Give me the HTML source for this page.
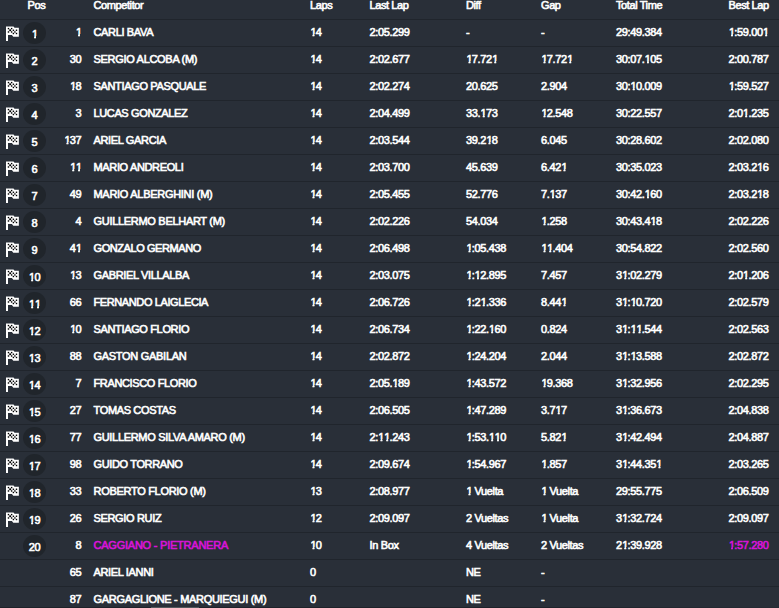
<!DOCTYPE html>
<html><head><meta charset="utf-8"><style>
html,body{margin:0;padding:0;}
body{width:779px;height:608px;overflow:hidden;background:#292f38;position:relative;font-family:"Liberation Sans",sans-serif;font-size:11px;font-weight:normal;-webkit-text-stroke-width:0.6px;color:#fff;letter-spacing:-0.35px;}
.r{position:absolute;left:0;width:779px;height:26px;border-top:1px solid #20252c;}
.t{position:absolute;white-space:nowrap;line-height:13px;top:6px;}
.h{position:absolute;white-space:nowrap;line-height:13px;top:-1px;letter-spacing:-0.4px;}
.n{position:absolute;right:697.7px;text-align:right;white-space:nowrap;line-height:13px;top:6px;}
.c{position:absolute;left:23px;top:2px;width:23px;height:22px;border-radius:50%;background:#20252b;text-align:center;line-height:22px;}
.c span{position:relative;top:1px;letter-spacing:-0.3px;}
.fl{position:absolute;left:6px;top:6px;}
.m{color:#d814d8;}
.o{font-style:normal;display:inline-block;line-height:13px;position:relative;left:0.4px;clip-path:polygon(0 0,100% 0,100% 8.0px,4.05px 8.0px,4.05px 13px,2.15px 13px,2.15px 8.0px,0 8.0px);}
.sb{position:absolute;left:0;top:607px;width:779px;height:1px;background:linear-gradient(to right,#1e2229 0,#1e2229 520px,#262b34 779px);}
.th{position:absolute;left:151px;top:607px;width:48px;height:1px;background:#52585c;}
</style></head><body>

<div class="h" style="left:27.6px">Pos</div>
<div class="h" style="left:93.5px">Competitor</div>
<div class="h" style="left:310px">Laps</div>
<div class="h" style="left:369.5px">Last Lap</div>
<div class="h" style="left:466px">Diff</div>
<div class="h" style="left:541px">Gap</div>
<div class="h" style="left:616px">Total Time</div>
<div class="h" style="left:728.5px">Best Lap</div>
<div class="r" style="top:19px"><svg class="fl" width="16" height="16" viewBox="0 0 16 16"><path d="M0 0.4H7.5L8.5 1.7H12.85V10.7H7.3L5.9 9H2V15.1H0Z" fill="#fff"/><rect x="1.77" y="1.87" width="1.4" height="1.4" fill="#000"/><rect x="4.93" y="1.87" width="1.4" height="1.4" fill="#000"/><rect x="6.70" y="3.55" width="1.4" height="1.4" fill="#000"/><rect x="9.80" y="3.55" width="1.4" height="1.4" fill="#000"/><rect x="6.70" y="6.80" width="1.4" height="1.4" fill="#000"/><rect x="9.80" y="6.80" width="1.4" height="1.4" fill="#000"/><rect x="1.77" y="4.93" width="1.4" height="2.0" fill="#000" opacity="0.75"/><rect x="4.93" y="4.93" width="1.4" height="2.0" fill="#000" opacity="0.75"/><rect x="8.20" y="4.93" width="1.4" height="2.0" fill="#000" opacity="0.75"/><rect x="3.25" y="3.35" width="1.8" height="1.8" fill="#000"/></svg><div class="c"><span><i class="o">1</i></span></div><div class="n"><i class="o">1</i></div><div class="t" style="left:93.5px;letter-spacing:-0.35px">CARLI BAVA</div><div class="t" style="left:310px;letter-spacing:-0.36px"><i class="o">1</i>4</div><div class="t" style="left:369.5px;letter-spacing:-0.36px">2:05.299</div><div class="t" style="left:466px;letter-spacing:-0.36px">-</div><div class="t" style="left:541px;letter-spacing:-0.36px">-</div><div class="t" style="left:616px;letter-spacing:-0.36px">29:49.384</div><div class="t" style="left:728.5px;letter-spacing:-0.36px"><i class="o">1</i>:59.00<i class="o">1</i></div></div>
<div class="r" style="top:46px"><svg class="fl" width="16" height="16" viewBox="0 0 16 16"><path d="M0 0.4H7.5L8.5 1.7H12.85V10.7H7.3L5.9 9H2V15.1H0Z" fill="#fff"/><rect x="1.77" y="1.87" width="1.4" height="1.4" fill="#000"/><rect x="4.93" y="1.87" width="1.4" height="1.4" fill="#000"/><rect x="6.70" y="3.55" width="1.4" height="1.4" fill="#000"/><rect x="9.80" y="3.55" width="1.4" height="1.4" fill="#000"/><rect x="6.70" y="6.80" width="1.4" height="1.4" fill="#000"/><rect x="9.80" y="6.80" width="1.4" height="1.4" fill="#000"/><rect x="1.77" y="4.93" width="1.4" height="2.0" fill="#000" opacity="0.75"/><rect x="4.93" y="4.93" width="1.4" height="2.0" fill="#000" opacity="0.75"/><rect x="8.20" y="4.93" width="1.4" height="2.0" fill="#000" opacity="0.75"/><rect x="3.25" y="3.35" width="1.8" height="1.8" fill="#000"/></svg><div class="c"><span>2</span></div><div class="n">30</div><div class="t" style="left:93.5px;letter-spacing:-0.304px">SERGIO ALCOBA (M)</div><div class="t" style="left:310px;letter-spacing:-0.36px"><i class="o">1</i>4</div><div class="t" style="left:369.5px;letter-spacing:-0.36px">2:02.677</div><div class="t" style="left:466px;letter-spacing:-0.36px"><i class="o">1</i>7.72<i class="o">1</i></div><div class="t" style="left:541px;letter-spacing:-0.36px"><i class="o">1</i>7.72<i class="o">1</i></div><div class="t" style="left:616px;letter-spacing:-0.36px">30:07.<i class="o">1</i>05</div><div class="t" style="left:728.5px;letter-spacing:-0.36px">2:00.787</div></div>
<div class="r" style="top:73px"><svg class="fl" width="16" height="16" viewBox="0 0 16 16"><path d="M0 0.4H7.5L8.5 1.7H12.85V10.7H7.3L5.9 9H2V15.1H0Z" fill="#fff"/><rect x="1.77" y="1.87" width="1.4" height="1.4" fill="#000"/><rect x="4.93" y="1.87" width="1.4" height="1.4" fill="#000"/><rect x="6.70" y="3.55" width="1.4" height="1.4" fill="#000"/><rect x="9.80" y="3.55" width="1.4" height="1.4" fill="#000"/><rect x="6.70" y="6.80" width="1.4" height="1.4" fill="#000"/><rect x="9.80" y="6.80" width="1.4" height="1.4" fill="#000"/><rect x="1.77" y="4.93" width="1.4" height="2.0" fill="#000" opacity="0.75"/><rect x="4.93" y="4.93" width="1.4" height="2.0" fill="#000" opacity="0.75"/><rect x="8.20" y="4.93" width="1.4" height="2.0" fill="#000" opacity="0.75"/><rect x="3.25" y="3.35" width="1.8" height="1.8" fill="#000"/></svg><div class="c"><span>3</span></div><div class="n"><i class="o">1</i>8</div><div class="t" style="left:93.5px;letter-spacing:-0.343px">SANTIAGO PASQUALE</div><div class="t" style="left:310px;letter-spacing:-0.36px"><i class="o">1</i>4</div><div class="t" style="left:369.5px;letter-spacing:-0.36px">2:02.274</div><div class="t" style="left:466px;letter-spacing:-0.36px">20.625</div><div class="t" style="left:541px;letter-spacing:-0.36px">2.904</div><div class="t" style="left:616px;letter-spacing:-0.36px">30:<i class="o">1</i>0.009</div><div class="t" style="left:728.5px;letter-spacing:-0.36px"><i class="o">1</i>:59.527</div></div>
<div class="r" style="top:100px"><svg class="fl" width="16" height="16" viewBox="0 0 16 16"><path d="M0 0.4H7.5L8.5 1.7H12.85V10.7H7.3L5.9 9H2V15.1H0Z" fill="#fff"/><rect x="1.77" y="1.87" width="1.4" height="1.4" fill="#000"/><rect x="4.93" y="1.87" width="1.4" height="1.4" fill="#000"/><rect x="6.70" y="3.55" width="1.4" height="1.4" fill="#000"/><rect x="9.80" y="3.55" width="1.4" height="1.4" fill="#000"/><rect x="6.70" y="6.80" width="1.4" height="1.4" fill="#000"/><rect x="9.80" y="6.80" width="1.4" height="1.4" fill="#000"/><rect x="1.77" y="4.93" width="1.4" height="2.0" fill="#000" opacity="0.75"/><rect x="4.93" y="4.93" width="1.4" height="2.0" fill="#000" opacity="0.75"/><rect x="8.20" y="4.93" width="1.4" height="2.0" fill="#000" opacity="0.75"/><rect x="3.25" y="3.35" width="1.8" height="1.8" fill="#000"/></svg><div class="c"><span>4</span></div><div class="n">3</div><div class="t" style="left:93.5px;letter-spacing:-0.369px">LUCAS GONZALEZ</div><div class="t" style="left:310px;letter-spacing:-0.36px"><i class="o">1</i>4</div><div class="t" style="left:369.5px;letter-spacing:-0.36px">2:04.499</div><div class="t" style="left:466px;letter-spacing:-0.36px">33.<i class="o">1</i>73</div><div class="t" style="left:541px;letter-spacing:-0.36px"><i class="o">1</i>2.548</div><div class="t" style="left:616px;letter-spacing:-0.36px">30:22.557</div><div class="t" style="left:728.5px;letter-spacing:-0.36px">2:0<i class="o">1</i>.235</div></div>
<div class="r" style="top:127px"><svg class="fl" width="16" height="16" viewBox="0 0 16 16"><path d="M0 0.4H7.5L8.5 1.7H12.85V10.7H7.3L5.9 9H2V15.1H0Z" fill="#fff"/><rect x="1.77" y="1.87" width="1.4" height="1.4" fill="#000"/><rect x="4.93" y="1.87" width="1.4" height="1.4" fill="#000"/><rect x="6.70" y="3.55" width="1.4" height="1.4" fill="#000"/><rect x="9.80" y="3.55" width="1.4" height="1.4" fill="#000"/><rect x="6.70" y="6.80" width="1.4" height="1.4" fill="#000"/><rect x="9.80" y="6.80" width="1.4" height="1.4" fill="#000"/><rect x="1.77" y="4.93" width="1.4" height="2.0" fill="#000" opacity="0.75"/><rect x="4.93" y="4.93" width="1.4" height="2.0" fill="#000" opacity="0.75"/><rect x="8.20" y="4.93" width="1.4" height="2.0" fill="#000" opacity="0.75"/><rect x="3.25" y="3.35" width="1.8" height="1.8" fill="#000"/></svg><div class="c"><span>5</span></div><div class="n"><i class="o">1</i>37</div><div class="t" style="left:93.5px;letter-spacing:-0.35px">ARIEL GARCIA</div><div class="t" style="left:310px;letter-spacing:-0.36px"><i class="o">1</i>4</div><div class="t" style="left:369.5px;letter-spacing:-0.36px">2:03.544</div><div class="t" style="left:466px;letter-spacing:-0.36px">39.2<i class="o">1</i>8</div><div class="t" style="left:541px;letter-spacing:-0.36px">6.045</div><div class="t" style="left:616px;letter-spacing:-0.36px">30:28.602</div><div class="t" style="left:728.5px;letter-spacing:-0.36px">2:02.080</div></div>
<div class="r" style="top:154px"><svg class="fl" width="16" height="16" viewBox="0 0 16 16"><path d="M0 0.4H7.5L8.5 1.7H12.85V10.7H7.3L5.9 9H2V15.1H0Z" fill="#fff"/><rect x="1.77" y="1.87" width="1.4" height="1.4" fill="#000"/><rect x="4.93" y="1.87" width="1.4" height="1.4" fill="#000"/><rect x="6.70" y="3.55" width="1.4" height="1.4" fill="#000"/><rect x="9.80" y="3.55" width="1.4" height="1.4" fill="#000"/><rect x="6.70" y="6.80" width="1.4" height="1.4" fill="#000"/><rect x="9.80" y="6.80" width="1.4" height="1.4" fill="#000"/><rect x="1.77" y="4.93" width="1.4" height="2.0" fill="#000" opacity="0.75"/><rect x="4.93" y="4.93" width="1.4" height="2.0" fill="#000" opacity="0.75"/><rect x="8.20" y="4.93" width="1.4" height="2.0" fill="#000" opacity="0.75"/><rect x="3.25" y="3.35" width="1.8" height="1.8" fill="#000"/></svg><div class="c"><span>6</span></div><div class="n"><i class="o">1</i><i class="o">1</i></div><div class="t" style="left:93.5px;letter-spacing:-0.35px">MARIO ANDREOLI</div><div class="t" style="left:310px;letter-spacing:-0.36px"><i class="o">1</i>4</div><div class="t" style="left:369.5px;letter-spacing:-0.36px">2:03.700</div><div class="t" style="left:466px;letter-spacing:-0.36px">45.639</div><div class="t" style="left:541px;letter-spacing:-0.36px">6.42<i class="o">1</i></div><div class="t" style="left:616px;letter-spacing:-0.36px">30:35.023</div><div class="t" style="left:728.5px;letter-spacing:-0.36px">2:03.2<i class="o">1</i>6</div></div>
<div class="r" style="top:181px"><svg class="fl" width="16" height="16" viewBox="0 0 16 16"><path d="M0 0.4H7.5L8.5 1.7H12.85V10.7H7.3L5.9 9H2V15.1H0Z" fill="#fff"/><rect x="1.77" y="1.87" width="1.4" height="1.4" fill="#000"/><rect x="4.93" y="1.87" width="1.4" height="1.4" fill="#000"/><rect x="6.70" y="3.55" width="1.4" height="1.4" fill="#000"/><rect x="9.80" y="3.55" width="1.4" height="1.4" fill="#000"/><rect x="6.70" y="6.80" width="1.4" height="1.4" fill="#000"/><rect x="9.80" y="6.80" width="1.4" height="1.4" fill="#000"/><rect x="1.77" y="4.93" width="1.4" height="2.0" fill="#000" opacity="0.75"/><rect x="4.93" y="4.93" width="1.4" height="2.0" fill="#000" opacity="0.75"/><rect x="8.20" y="4.93" width="1.4" height="2.0" fill="#000" opacity="0.75"/><rect x="3.25" y="3.35" width="1.8" height="1.8" fill="#000"/></svg><div class="c"><span>7</span></div><div class="n">49</div><div class="t" style="left:93.5px;letter-spacing:-0.29px">MARIO ALBERGHINI (M)</div><div class="t" style="left:310px;letter-spacing:-0.36px"><i class="o">1</i>4</div><div class="t" style="left:369.5px;letter-spacing:-0.36px">2:05.455</div><div class="t" style="left:466px;letter-spacing:-0.36px">52.776</div><div class="t" style="left:541px;letter-spacing:-0.36px">7.<i class="o">1</i>37</div><div class="t" style="left:616px;letter-spacing:-0.36px">30:42.<i class="o">1</i>60</div><div class="t" style="left:728.5px;letter-spacing:-0.36px">2:03.2<i class="o">1</i>8</div></div>
<div class="r" style="top:208px"><svg class="fl" width="16" height="16" viewBox="0 0 16 16"><path d="M0 0.4H7.5L8.5 1.7H12.85V10.7H7.3L5.9 9H2V15.1H0Z" fill="#fff"/><rect x="1.77" y="1.87" width="1.4" height="1.4" fill="#000"/><rect x="4.93" y="1.87" width="1.4" height="1.4" fill="#000"/><rect x="6.70" y="3.55" width="1.4" height="1.4" fill="#000"/><rect x="9.80" y="3.55" width="1.4" height="1.4" fill="#000"/><rect x="6.70" y="6.80" width="1.4" height="1.4" fill="#000"/><rect x="9.80" y="6.80" width="1.4" height="1.4" fill="#000"/><rect x="1.77" y="4.93" width="1.4" height="2.0" fill="#000" opacity="0.75"/><rect x="4.93" y="4.93" width="1.4" height="2.0" fill="#000" opacity="0.75"/><rect x="8.20" y="4.93" width="1.4" height="2.0" fill="#000" opacity="0.75"/><rect x="3.25" y="3.35" width="1.8" height="1.8" fill="#000"/></svg><div class="c"><span>8</span></div><div class="n">4</div><div class="t" style="left:93.5px;letter-spacing:-0.3px">GUILLERMO BELHART (M)</div><div class="t" style="left:310px;letter-spacing:-0.36px"><i class="o">1</i>4</div><div class="t" style="left:369.5px;letter-spacing:-0.36px">2:02.226</div><div class="t" style="left:466px;letter-spacing:-0.36px">54.034</div><div class="t" style="left:541px;letter-spacing:-0.36px"><i class="o">1</i>.258</div><div class="t" style="left:616px;letter-spacing:-0.36px">30:43.4<i class="o">1</i>8</div><div class="t" style="left:728.5px;letter-spacing:-0.36px">2:02.226</div></div>
<div class="r" style="top:235px"><svg class="fl" width="16" height="16" viewBox="0 0 16 16"><path d="M0 0.4H7.5L8.5 1.7H12.85V10.7H7.3L5.9 9H2V15.1H0Z" fill="#fff"/><rect x="1.77" y="1.87" width="1.4" height="1.4" fill="#000"/><rect x="4.93" y="1.87" width="1.4" height="1.4" fill="#000"/><rect x="6.70" y="3.55" width="1.4" height="1.4" fill="#000"/><rect x="9.80" y="3.55" width="1.4" height="1.4" fill="#000"/><rect x="6.70" y="6.80" width="1.4" height="1.4" fill="#000"/><rect x="9.80" y="6.80" width="1.4" height="1.4" fill="#000"/><rect x="1.77" y="4.93" width="1.4" height="2.0" fill="#000" opacity="0.75"/><rect x="4.93" y="4.93" width="1.4" height="2.0" fill="#000" opacity="0.75"/><rect x="8.20" y="4.93" width="1.4" height="2.0" fill="#000" opacity="0.75"/><rect x="3.25" y="3.35" width="1.8" height="1.8" fill="#000"/></svg><div class="c"><span>9</span></div><div class="n">4<i class="o">1</i></div><div class="t" style="left:93.5px;letter-spacing:-0.421px">GONZALO GERMANO</div><div class="t" style="left:310px;letter-spacing:-0.36px"><i class="o">1</i>4</div><div class="t" style="left:369.5px;letter-spacing:-0.36px">2:06.498</div><div class="t" style="left:466px;letter-spacing:-0.36px"><i class="o">1</i>:05.438</div><div class="t" style="left:541px;letter-spacing:-0.36px"><i class="o">1</i><i class="o">1</i>.404</div><div class="t" style="left:616px;letter-spacing:-0.36px">30:54.822</div><div class="t" style="left:728.5px;letter-spacing:-0.36px">2:02.560</div></div>
<div class="r" style="top:262px"><svg class="fl" width="16" height="16" viewBox="0 0 16 16"><path d="M0 0.4H7.5L8.5 1.7H12.85V10.7H7.3L5.9 9H2V15.1H0Z" fill="#fff"/><rect x="1.77" y="1.87" width="1.4" height="1.4" fill="#000"/><rect x="4.93" y="1.87" width="1.4" height="1.4" fill="#000"/><rect x="6.70" y="3.55" width="1.4" height="1.4" fill="#000"/><rect x="9.80" y="3.55" width="1.4" height="1.4" fill="#000"/><rect x="6.70" y="6.80" width="1.4" height="1.4" fill="#000"/><rect x="9.80" y="6.80" width="1.4" height="1.4" fill="#000"/><rect x="1.77" y="4.93" width="1.4" height="2.0" fill="#000" opacity="0.75"/><rect x="4.93" y="4.93" width="1.4" height="2.0" fill="#000" opacity="0.75"/><rect x="8.20" y="4.93" width="1.4" height="2.0" fill="#000" opacity="0.75"/><rect x="3.25" y="3.35" width="1.8" height="1.8" fill="#000"/></svg><div class="c"><span><i class="o">1</i>0</span></div><div class="n"><i class="o">1</i>3</div><div class="t" style="left:93.5px;letter-spacing:-0.35px">GABRIEL VILLALBA</div><div class="t" style="left:310px;letter-spacing:-0.36px"><i class="o">1</i>4</div><div class="t" style="left:369.5px;letter-spacing:-0.36px">2:03.075</div><div class="t" style="left:466px;letter-spacing:-0.36px"><i class="o">1</i>:<i class="o">1</i>2.895</div><div class="t" style="left:541px;letter-spacing:-0.36px">7.457</div><div class="t" style="left:616px;letter-spacing:-0.36px">3<i class="o">1</i>:02.279</div><div class="t" style="left:728.5px;letter-spacing:-0.36px">2:0<i class="o">1</i>.206</div></div>
<div class="r" style="top:289px"><svg class="fl" width="16" height="16" viewBox="0 0 16 16"><path d="M0 0.4H7.5L8.5 1.7H12.85V10.7H7.3L5.9 9H2V15.1H0Z" fill="#fff"/><rect x="1.77" y="1.87" width="1.4" height="1.4" fill="#000"/><rect x="4.93" y="1.87" width="1.4" height="1.4" fill="#000"/><rect x="6.70" y="3.55" width="1.4" height="1.4" fill="#000"/><rect x="9.80" y="3.55" width="1.4" height="1.4" fill="#000"/><rect x="6.70" y="6.80" width="1.4" height="1.4" fill="#000"/><rect x="9.80" y="6.80" width="1.4" height="1.4" fill="#000"/><rect x="1.77" y="4.93" width="1.4" height="2.0" fill="#000" opacity="0.75"/><rect x="4.93" y="4.93" width="1.4" height="2.0" fill="#000" opacity="0.75"/><rect x="8.20" y="4.93" width="1.4" height="2.0" fill="#000" opacity="0.75"/><rect x="3.25" y="3.35" width="1.8" height="1.8" fill="#000"/></svg><div class="c"><span><i class="o">1</i><i class="o">1</i></span></div><div class="n">66</div><div class="t" style="left:93.5px;letter-spacing:-0.393px">FERNANDO LAIGLECIA</div><div class="t" style="left:310px;letter-spacing:-0.36px"><i class="o">1</i>4</div><div class="t" style="left:369.5px;letter-spacing:-0.36px">2:06.726</div><div class="t" style="left:466px;letter-spacing:-0.36px"><i class="o">1</i>:2<i class="o">1</i>.336</div><div class="t" style="left:541px;letter-spacing:-0.36px">8.44<i class="o">1</i></div><div class="t" style="left:616px;letter-spacing:-0.36px">3<i class="o">1</i>:<i class="o">1</i>0.720</div><div class="t" style="left:728.5px;letter-spacing:-0.36px">2:02.579</div></div>
<div class="r" style="top:316px"><svg class="fl" width="16" height="16" viewBox="0 0 16 16"><path d="M0 0.4H7.5L8.5 1.7H12.85V10.7H7.3L5.9 9H2V15.1H0Z" fill="#fff"/><rect x="1.77" y="1.87" width="1.4" height="1.4" fill="#000"/><rect x="4.93" y="1.87" width="1.4" height="1.4" fill="#000"/><rect x="6.70" y="3.55" width="1.4" height="1.4" fill="#000"/><rect x="9.80" y="3.55" width="1.4" height="1.4" fill="#000"/><rect x="6.70" y="6.80" width="1.4" height="1.4" fill="#000"/><rect x="9.80" y="6.80" width="1.4" height="1.4" fill="#000"/><rect x="1.77" y="4.93" width="1.4" height="2.0" fill="#000" opacity="0.75"/><rect x="4.93" y="4.93" width="1.4" height="2.0" fill="#000" opacity="0.75"/><rect x="8.20" y="4.93" width="1.4" height="2.0" fill="#000" opacity="0.75"/><rect x="3.25" y="3.35" width="1.8" height="1.8" fill="#000"/></svg><div class="c"><span><i class="o">1</i>2</span></div><div class="n"><i class="o">1</i>0</div><div class="t" style="left:93.5px;letter-spacing:-0.35px">SANTIAGO FLORIO</div><div class="t" style="left:310px;letter-spacing:-0.36px"><i class="o">1</i>4</div><div class="t" style="left:369.5px;letter-spacing:-0.36px">2:06.734</div><div class="t" style="left:466px;letter-spacing:-0.36px"><i class="o">1</i>:22.<i class="o">1</i>60</div><div class="t" style="left:541px;letter-spacing:-0.36px">0.824</div><div class="t" style="left:616px;letter-spacing:-0.36px">3<i class="o">1</i>:<i class="o">1</i><i class="o">1</i>.544</div><div class="t" style="left:728.5px;letter-spacing:-0.36px">2:02.563</div></div>
<div class="r" style="top:343px"><svg class="fl" width="16" height="16" viewBox="0 0 16 16"><path d="M0 0.4H7.5L8.5 1.7H12.85V10.7H7.3L5.9 9H2V15.1H0Z" fill="#fff"/><rect x="1.77" y="1.87" width="1.4" height="1.4" fill="#000"/><rect x="4.93" y="1.87" width="1.4" height="1.4" fill="#000"/><rect x="6.70" y="3.55" width="1.4" height="1.4" fill="#000"/><rect x="9.80" y="3.55" width="1.4" height="1.4" fill="#000"/><rect x="6.70" y="6.80" width="1.4" height="1.4" fill="#000"/><rect x="9.80" y="6.80" width="1.4" height="1.4" fill="#000"/><rect x="1.77" y="4.93" width="1.4" height="2.0" fill="#000" opacity="0.75"/><rect x="4.93" y="4.93" width="1.4" height="2.0" fill="#000" opacity="0.75"/><rect x="8.20" y="4.93" width="1.4" height="2.0" fill="#000" opacity="0.75"/><rect x="3.25" y="3.35" width="1.8" height="1.8" fill="#000"/></svg><div class="c"><span><i class="o">1</i>3</span></div><div class="n">88</div><div class="t" style="left:93.5px;letter-spacing:-0.292px">GASTON GABILAN</div><div class="t" style="left:310px;letter-spacing:-0.36px"><i class="o">1</i>4</div><div class="t" style="left:369.5px;letter-spacing:-0.36px">2:02.872</div><div class="t" style="left:466px;letter-spacing:-0.36px"><i class="o">1</i>:24.204</div><div class="t" style="left:541px;letter-spacing:-0.36px">2.044</div><div class="t" style="left:616px;letter-spacing:-0.36px">3<i class="o">1</i>:<i class="o">1</i>3.588</div><div class="t" style="left:728.5px;letter-spacing:-0.36px">2:02.872</div></div>
<div class="r" style="top:370px"><svg class="fl" width="16" height="16" viewBox="0 0 16 16"><path d="M0 0.4H7.5L8.5 1.7H12.85V10.7H7.3L5.9 9H2V15.1H0Z" fill="#fff"/><rect x="1.77" y="1.87" width="1.4" height="1.4" fill="#000"/><rect x="4.93" y="1.87" width="1.4" height="1.4" fill="#000"/><rect x="6.70" y="3.55" width="1.4" height="1.4" fill="#000"/><rect x="9.80" y="3.55" width="1.4" height="1.4" fill="#000"/><rect x="6.70" y="6.80" width="1.4" height="1.4" fill="#000"/><rect x="9.80" y="6.80" width="1.4" height="1.4" fill="#000"/><rect x="1.77" y="4.93" width="1.4" height="2.0" fill="#000" opacity="0.75"/><rect x="4.93" y="4.93" width="1.4" height="2.0" fill="#000" opacity="0.75"/><rect x="8.20" y="4.93" width="1.4" height="2.0" fill="#000" opacity="0.75"/><rect x="3.25" y="3.35" width="1.8" height="1.8" fill="#000"/></svg><div class="c"><span><i class="o">1</i>4</span></div><div class="n">7</div><div class="t" style="left:93.5px;letter-spacing:-0.365px">FRANCISCO FLORIO</div><div class="t" style="left:310px;letter-spacing:-0.36px"><i class="o">1</i>4</div><div class="t" style="left:369.5px;letter-spacing:-0.36px">2:05.<i class="o">1</i>89</div><div class="t" style="left:466px;letter-spacing:-0.36px"><i class="o">1</i>:43.572</div><div class="t" style="left:541px;letter-spacing:-0.36px"><i class="o">1</i>9.368</div><div class="t" style="left:616px;letter-spacing:-0.36px">3<i class="o">1</i>:32.956</div><div class="t" style="left:728.5px;letter-spacing:-0.36px">2:02.295</div></div>
<div class="r" style="top:397px"><svg class="fl" width="16" height="16" viewBox="0 0 16 16"><path d="M0 0.4H7.5L8.5 1.7H12.85V10.7H7.3L5.9 9H2V15.1H0Z" fill="#fff"/><rect x="1.77" y="1.87" width="1.4" height="1.4" fill="#000"/><rect x="4.93" y="1.87" width="1.4" height="1.4" fill="#000"/><rect x="6.70" y="3.55" width="1.4" height="1.4" fill="#000"/><rect x="9.80" y="3.55" width="1.4" height="1.4" fill="#000"/><rect x="6.70" y="6.80" width="1.4" height="1.4" fill="#000"/><rect x="9.80" y="6.80" width="1.4" height="1.4" fill="#000"/><rect x="1.77" y="4.93" width="1.4" height="2.0" fill="#000" opacity="0.75"/><rect x="4.93" y="4.93" width="1.4" height="2.0" fill="#000" opacity="0.75"/><rect x="8.20" y="4.93" width="1.4" height="2.0" fill="#000" opacity="0.75"/><rect x="3.25" y="3.35" width="1.8" height="1.8" fill="#000"/></svg><div class="c"><span><i class="o">1</i>5</span></div><div class="n">27</div><div class="t" style="left:93.5px;letter-spacing:-0.35px">TOMAS COSTAS</div><div class="t" style="left:310px;letter-spacing:-0.36px"><i class="o">1</i>4</div><div class="t" style="left:369.5px;letter-spacing:-0.36px">2:06.505</div><div class="t" style="left:466px;letter-spacing:-0.36px"><i class="o">1</i>:47.289</div><div class="t" style="left:541px;letter-spacing:-0.36px">3.7<i class="o">1</i>7</div><div class="t" style="left:616px;letter-spacing:-0.36px">3<i class="o">1</i>:36.673</div><div class="t" style="left:728.5px;letter-spacing:-0.36px">2:04.838</div></div>
<div class="r" style="top:424px"><svg class="fl" width="16" height="16" viewBox="0 0 16 16"><path d="M0 0.4H7.5L8.5 1.7H12.85V10.7H7.3L5.9 9H2V15.1H0Z" fill="#fff"/><rect x="1.77" y="1.87" width="1.4" height="1.4" fill="#000"/><rect x="4.93" y="1.87" width="1.4" height="1.4" fill="#000"/><rect x="6.70" y="3.55" width="1.4" height="1.4" fill="#000"/><rect x="9.80" y="3.55" width="1.4" height="1.4" fill="#000"/><rect x="6.70" y="6.80" width="1.4" height="1.4" fill="#000"/><rect x="9.80" y="6.80" width="1.4" height="1.4" fill="#000"/><rect x="1.77" y="4.93" width="1.4" height="2.0" fill="#000" opacity="0.75"/><rect x="4.93" y="4.93" width="1.4" height="2.0" fill="#000" opacity="0.75"/><rect x="8.20" y="4.93" width="1.4" height="2.0" fill="#000" opacity="0.75"/><rect x="3.25" y="3.35" width="1.8" height="1.8" fill="#000"/></svg><div class="c"><span><i class="o">1</i>6</span></div><div class="n">77</div><div class="t" style="left:93.5px;letter-spacing:-0.314px">GUILLERMO SILVA AMARO (M)</div><div class="t" style="left:310px;letter-spacing:-0.36px"><i class="o">1</i>4</div><div class="t" style="left:369.5px;letter-spacing:-0.36px">2:<i class="o">1</i><i class="o">1</i>.243</div><div class="t" style="left:466px;letter-spacing:-0.36px"><i class="o">1</i>:53.<i class="o">1</i><i class="o">1</i>0</div><div class="t" style="left:541px;letter-spacing:-0.36px">5.82<i class="o">1</i></div><div class="t" style="left:616px;letter-spacing:-0.36px">3<i class="o">1</i>:42.494</div><div class="t" style="left:728.5px;letter-spacing:-0.36px">2:04.887</div></div>
<div class="r" style="top:451px"><svg class="fl" width="16" height="16" viewBox="0 0 16 16"><path d="M0 0.4H7.5L8.5 1.7H12.85V10.7H7.3L5.9 9H2V15.1H0Z" fill="#fff"/><rect x="1.77" y="1.87" width="1.4" height="1.4" fill="#000"/><rect x="4.93" y="1.87" width="1.4" height="1.4" fill="#000"/><rect x="6.70" y="3.55" width="1.4" height="1.4" fill="#000"/><rect x="9.80" y="3.55" width="1.4" height="1.4" fill="#000"/><rect x="6.70" y="6.80" width="1.4" height="1.4" fill="#000"/><rect x="9.80" y="6.80" width="1.4" height="1.4" fill="#000"/><rect x="1.77" y="4.93" width="1.4" height="2.0" fill="#000" opacity="0.75"/><rect x="4.93" y="4.93" width="1.4" height="2.0" fill="#000" opacity="0.75"/><rect x="8.20" y="4.93" width="1.4" height="2.0" fill="#000" opacity="0.75"/><rect x="3.25" y="3.35" width="1.8" height="1.8" fill="#000"/></svg><div class="c"><span><i class="o">1</i>7</span></div><div class="n">98</div><div class="t" style="left:93.5px;letter-spacing:-0.361px">GUIDO TORRANO</div><div class="t" style="left:310px;letter-spacing:-0.36px"><i class="o">1</i>4</div><div class="t" style="left:369.5px;letter-spacing:-0.36px">2:09.674</div><div class="t" style="left:466px;letter-spacing:-0.36px"><i class="o">1</i>:54.967</div><div class="t" style="left:541px;letter-spacing:-0.36px"><i class="o">1</i>.857</div><div class="t" style="left:616px;letter-spacing:-0.36px">3<i class="o">1</i>:44.35<i class="o">1</i></div><div class="t" style="left:728.5px;letter-spacing:-0.36px">2:03.265</div></div>
<div class="r" style="top:478px"><svg class="fl" width="16" height="16" viewBox="0 0 16 16"><path d="M0 0.4H7.5L8.5 1.7H12.85V10.7H7.3L5.9 9H2V15.1H0Z" fill="#fff"/><rect x="1.77" y="1.87" width="1.4" height="1.4" fill="#000"/><rect x="4.93" y="1.87" width="1.4" height="1.4" fill="#000"/><rect x="6.70" y="3.55" width="1.4" height="1.4" fill="#000"/><rect x="9.80" y="3.55" width="1.4" height="1.4" fill="#000"/><rect x="6.70" y="6.80" width="1.4" height="1.4" fill="#000"/><rect x="9.80" y="6.80" width="1.4" height="1.4" fill="#000"/><rect x="1.77" y="4.93" width="1.4" height="2.0" fill="#000" opacity="0.75"/><rect x="4.93" y="4.93" width="1.4" height="2.0" fill="#000" opacity="0.75"/><rect x="8.20" y="4.93" width="1.4" height="2.0" fill="#000" opacity="0.75"/><rect x="3.25" y="3.35" width="1.8" height="1.8" fill="#000"/></svg><div class="c"><span><i class="o">1</i>8</span></div><div class="n">33</div><div class="t" style="left:93.5px;letter-spacing:-0.296px">ROBERTO FLORIO (M)</div><div class="t" style="left:310px;letter-spacing:-0.36px"><i class="o">1</i>3</div><div class="t" style="left:369.5px;letter-spacing:-0.36px">2:08.977</div><div class="t" style="left:466px;letter-spacing:-0.36px"><i class="o">1</i> Vuelta</div><div class="t" style="left:541px;letter-spacing:-0.36px"><i class="o">1</i> Vuelta</div><div class="t" style="left:616px;letter-spacing:-0.36px">29:55.775</div><div class="t" style="left:728.5px;letter-spacing:-0.36px">2:06.509</div></div>
<div class="r" style="top:505px"><svg class="fl" width="16" height="16" viewBox="0 0 16 16"><path d="M0 0.4H7.5L8.5 1.7H12.85V10.7H7.3L5.9 9H2V15.1H0Z" fill="#fff"/><rect x="1.77" y="1.87" width="1.4" height="1.4" fill="#000"/><rect x="4.93" y="1.87" width="1.4" height="1.4" fill="#000"/><rect x="6.70" y="3.55" width="1.4" height="1.4" fill="#000"/><rect x="9.80" y="3.55" width="1.4" height="1.4" fill="#000"/><rect x="6.70" y="6.80" width="1.4" height="1.4" fill="#000"/><rect x="9.80" y="6.80" width="1.4" height="1.4" fill="#000"/><rect x="1.77" y="4.93" width="1.4" height="2.0" fill="#000" opacity="0.75"/><rect x="4.93" y="4.93" width="1.4" height="2.0" fill="#000" opacity="0.75"/><rect x="8.20" y="4.93" width="1.4" height="2.0" fill="#000" opacity="0.75"/><rect x="3.25" y="3.35" width="1.8" height="1.8" fill="#000"/></svg><div class="c"><span><i class="o">1</i>9</span></div><div class="n">26</div><div class="t" style="left:93.5px;letter-spacing:-0.34px">SERGIO RUIZ</div><div class="t" style="left:310px;letter-spacing:-0.36px"><i class="o">1</i>2</div><div class="t" style="left:369.5px;letter-spacing:-0.36px">2:09.097</div><div class="t" style="left:466px;letter-spacing:-0.36px">2 Vueltas</div><div class="t" style="left:541px;letter-spacing:-0.36px"><i class="o">1</i> Vuelta</div><div class="t" style="left:616px;letter-spacing:-0.36px">3<i class="o">1</i>:32.724</div><div class="t" style="left:728.5px;letter-spacing:-0.36px">2:09.097</div></div>
<div class="r" style="top:532px"><div class="c"><span>20</span></div><div class="n">8</div><div class="t m" style="left:93.5px;letter-spacing:-0.23px">CAGGIANO - PIETRANERA</div><div class="t" style="left:310px;letter-spacing:-0.36px"><i class="o">1</i>0</div><div class="t" style="left:369.5px;letter-spacing:-0.36px">In Box</div><div class="t" style="left:466px;letter-spacing:-0.36px">4 Vueltas</div><div class="t" style="left:541px;letter-spacing:-0.36px">2 Vueltas</div><div class="t" style="left:616px;letter-spacing:-0.36px">2<i class="o">1</i>:39.928</div><div class="t m" style="left:728.5px;letter-spacing:-0.36px"><i class="o">1</i>:57.280</div></div>
<div class="r" style="top:559px"><div class="n">65</div><div class="t" style="left:93.5px;letter-spacing:-0.35px">ARIEL IANNI</div><div class="t" style="left:310px;letter-spacing:-0.36px">0</div><div class="t" style="left:466px;letter-spacing:-0.36px">NE</div><div class="t" style="left:541px;letter-spacing:-0.36px">-</div></div>
<div class="r" style="top:586px"><div class="n">87</div><div class="t" style="left:93.5px;letter-spacing:-0.313px">GARGAGLIONE - MARQUIEGUI (M)</div><div class="t" style="left:310px;letter-spacing:-0.36px">0</div><div class="t" style="left:466px;letter-spacing:-0.36px">NE</div><div class="t" style="left:541px;letter-spacing:-0.36px">-</div></div>
<div class="sb"></div><div class="th"></div>
</body></html>
